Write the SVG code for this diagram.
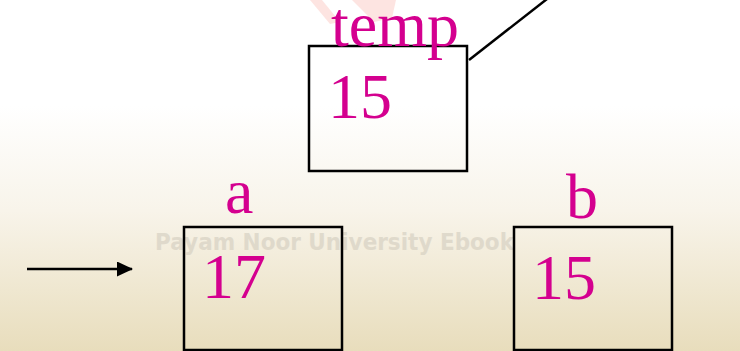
<svg xmlns="http://www.w3.org/2000/svg" width="740" height="351" viewBox="0 0 740 351">
  <defs>
    <linearGradient id="bg" x1="0" y1="0" x2="0" y2="1">
      <stop offset="0" stop-color="#FFFFFF"/>
      <stop offset="0.3" stop-color="#FFFFFF"/>
      <stop offset="0.6" stop-color="#F8F4EA"/>
      <stop offset="1" stop-color="#E8DDBC"/>
    </linearGradient>
    <marker id="arrow" markerWidth="16" markerHeight="15" refX="15" refY="7.5" orient="auto" markerUnits="userSpaceOnUse">
      <path d="M0,0 L16,7.5 L0,15 Z" fill="#000"/>
    </marker>
    <style>
      .box { fill: none; stroke: #000; stroke-width: 2.5; }
      .lbl { font-family: "Liberation Serif", "Times New Roman", serif; font-size: 64px; fill: #D4008F; }
      .conn { stroke: #000; stroke-width: 2.5; fill: none; }
      .wm { font-family: "DejaVu Sans", "Liberation Sans", sans-serif; font-weight: bold; }
    </style>
  </defs>

  <g id="background">
    <rect x="0" y="0" width="740" height="351" fill="url(#bg)"/>
    <polygon points="310,0 322,0 340,22 330,24" fill="#F7A59C" opacity="0.3"/>
    <polygon points="352,0 396,0 392,18 374,22" fill="#F7A59C" opacity="0.3"/>
    <text class="wm" x="155" y="250" font-size="23" fill="#D2CCBE" opacity="0.6" textLength="359" lengthAdjust="spacingAndGlyphs">Payam Noor University Ebook</text>
  </g>

  <g id="connectors">
    <line class="conn" x1="469" y1="60" x2="547" y2="-1"/>
    <line class="conn" x1="27" y1="269" x2="132" y2="269" stroke-width="3" marker-end="url(#arrow)"/>
  </g>

  <g id="temp">
    <rect class="box" x="309" y="46" width="158" height="125"/>
    <text class="lbl" x="331" y="46">temp</text>
    <text class="lbl" x="328" y="118">15</text>
  </g>

  <g id="a">
    <rect class="box" x="184" y="227" width="158" height="123"/>
    <text class="lbl" x="225" y="213">a</text>
    <text class="lbl" x="202" y="298">17</text>
  </g>

  <g id="b">
    <rect class="box" x="514" y="227" width="158" height="123"/>
    <text class="lbl" x="566" y="218">b</text>
    <text class="lbl" x="532" y="299">15</text>
  </g>
</svg>
